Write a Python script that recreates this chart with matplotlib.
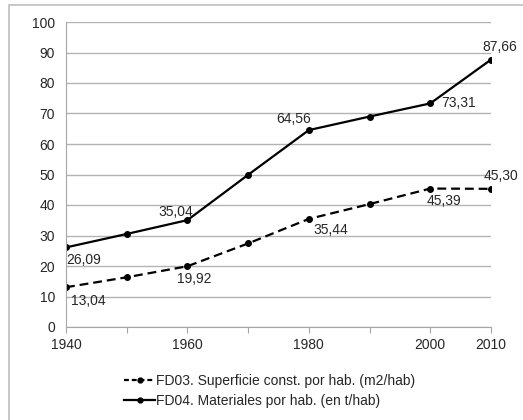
import matplotlib
matplotlib.use("Agg")
import matplotlib.pyplot as plt
from matplotlib.lines import Line2D
from matplotlib.patches import Rectangle

years = [1940, 1950, 1960, 1970, 1980, 1990, 2000, 2010]
fd03 = [13.04, 16.3, 19.92, 27.4, 35.44, 40.3, 45.39, 45.30]
fd04 = [26.09, 30.5, 35.04, 49.9, 64.56, 69.0, 73.31, 87.66]
fd03_name = "FD03. Superficie const. por hab. (m2/hab)"
fd04_name = "FD04. Materiales por hab. (en t/hab)"
xtick_labels = [1940, 1960, 1980, 2000, 2010]

plt.rcParams["font.family"] = ["Liberation Sans", "DejaVu Sans"]

# labels: (index, offset x, offset y, ha, va)
fd03_labels = [(0, 3.5, -5, "left", "top"), (2, 5, -4, "center", "top"),
               (4, 3, -3, "left", "top"), (6, 10, -4, "center", "top"),
               (7, 7, 4, "center", "bottom")]
fd04_labels = [(0, 0.5, -4, "left", "top"), (2, -8.5, 1, "center", "bottom"),
               (4, -11, 3, "center", "bottom"), (6, 8, 0, "left", "center"),
               (7, 6.5, 4, "center", "bottom")]

W, H = 523, 420
fig = plt.figure(figsize=(W / 100, H / 100), dpi=100)
# outer chart-area border: only left and top edges fall inside the image
fig.patches.append(Rectangle((8.5 / W, -0.1), 1.2, 1.1 - 5.5 / H,
                             transform=fig.transFigure, fill=False,
                             edgecolor="#bfbfbf", lw=1.2, zorder=0))
ax = fig.add_axes([66 / W, 1 - 327 / H, (491 - 66) / W, (327 - 22) / H])

ax.plot(years, fd03, color="black", lw=1.6, ls=(0, (4, 2.2)), marker="o", ms=4)
ax.plot(years, fd04, color="black", lw=1.6, marker="o", ms=4)

fs = 10
tc = "#262626"
for series, labs in ((fd03, fd03_labels), (fd04, fd04_labels)):
    for i, dx, dy, ha, va in labs:
        ax.annotate(f"{series[i]:.2f}".replace(".", ","), (years[i], series[i]),
                    xytext=(dx, dy), textcoords="offset points", ha=ha, va=va,
                    fontsize=fs, color=tc)

ax.set_xlim(1940, 2010)
ax.set_ylim(0, 100)
ax.set_yticks(range(0, 101, 10))
ax.set_xticks(years, minor=False)
ax.set_xticklabels([str(y) if y in xtick_labels else "" for y in years])
ax.grid(axis="y", color="#b3b3b3", lw=1)
ax.set_axisbelow(True)
for s in ("top", "right"):
    ax.spines[s].set_visible(False)
for s in ("left", "bottom"):
    ax.spines[s].set_color("#a6a6a6")
ax.tick_params(axis="y", length=0, labelsize=fs, pad=8, labelcolor=tc)
ax.tick_params(axis="x", length=4, color="#a6a6a6", labelsize=fs, pad=4, labelcolor=tc)

handles = [Line2D([], [], color="black", lw=1.6, ls=(0, (2.2, 1.3)), marker="o", ms=3.5),
           Line2D([], [], color="black", lw=1.6, marker="o", ms=3.5)]
fig.legend(handles, [fd03_name, fd04_name], loc="center",
           bbox_to_anchor=(270 / W, 1 - 391 / H), frameon=False, fontsize=fs,
           handlelength=2.2, handletextpad=0.1, labelspacing=0.4,
           labelcolor=tc)

fig.savefig("out.png", dpi=100)
